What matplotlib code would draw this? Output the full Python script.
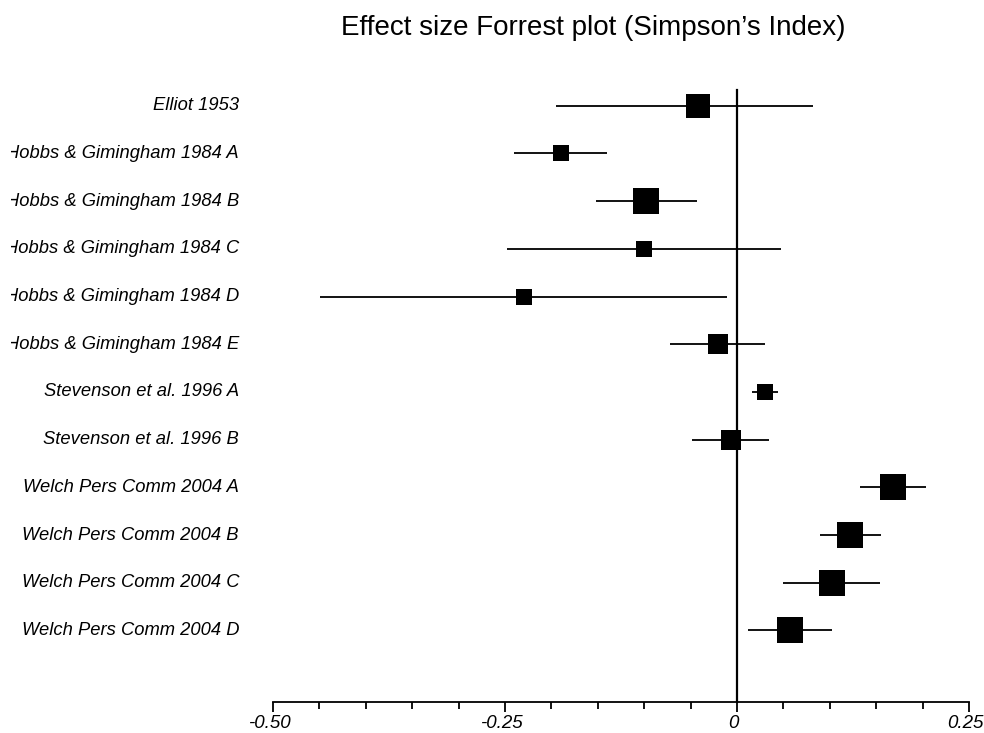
import matplotlib
matplotlib.use("Agg")
import matplotlib.pyplot as plt
import matplotlib.transforms as mtransforms
from matplotlib.patches import Rectangle
from matplotlib.ticker import FixedLocator, FixedFormatter, MultipleLocator

plt.rcParams['font.family'] = ['Liberation Sans', 'DejaVu Sans']

studies = ["Elliot 1953",
           "Hobbs & Gimingham 1984 A",
           "Hobbs & Gimingham 1984 B",
           "Hobbs & Gimingham 1984 C",
           "Hobbs & Gimingham 1984 D",
           "Hobbs & Gimingham 1984 E",
           "Stevenson et al. 1996 A",
           "Stevenson et al. 1996 B",
           "Welch Pers Comm 2004 A",
           "Welch Pers Comm 2004 B",
           "Welch Pers Comm 2004 C",
           "Welch Pers Comm 2004 D"]
effect = [-0.042, -0.190, -0.098, -0.100, -0.230, -0.020,
          0.0305, -0.007, 0.168, 0.122, 0.102, 0.0575]
ci_low = [-0.195, -0.240, -0.152, -0.248, -0.449, -0.072,
          0.0165, -0.048, 0.1325, 0.089, 0.050, 0.012]
ci_high = [0.082, -0.140, -0.043, 0.047, -0.011, 0.0305,
           0.0445, 0.034, 0.204, 0.155, 0.154, 0.102]
weight = [0.88, 0.60, 1.0, 0.60, 0.60, 0.73,
          0.60, 0.73, 1.0, 1.0, 1.0, 1.0]
tick_values = [-0.50, -0.25, 0.0, 0.25]
tick_labels = ["-0.50", "-0.25", "0", "0.25"]
title = "Effect size Forrest plot (Simpson\u2019s Index)"

W, H = 984, 733
fig = plt.figure(figsize=(W / 100, H / 100), dpi=100)
axis_y = 702
row_top = 105.7
row_step = 47.7
n = len(studies)
ymax = n + (axis_y - (row_top + (n - 1) * row_step)) / row_step
top_px = axis_y - ymax * row_step
ax = fig.add_axes([273 / W, 1 - axis_y / H, (969 - 273) / W, (axis_y - top_px) / H])

rows = list(range(1, n + 1))

for i in range(n):
    ax.plot([ci_low[i], ci_high[i]], [rows[i], rows[i]], color='black', lw=1.3,
            solid_capstyle='butt', zorder=2)
    ax.plot(effect[i], rows[i], marker='s', color='black',
            markersize=19.4 * weight[i], markeredgewidth=0, zorder=3)

ax.plot([0, 0], [0.67, ymax], color='black', lw=1.6, zorder=1, clip_on=False)

ax.set_xlim(-0.5, 0.25)
ax.set_ylim(ymax, 0)

for s in ['top', 'right', 'left']:
    ax.spines[s].set_visible(False)
ax.spines['bottom'].set_linewidth(1.3)
ax.set_yticks([])

ax.xaxis.set_major_locator(FixedLocator(tick_values))
ax.xaxis.set_major_formatter(FixedFormatter(tick_labels))
ax.xaxis.set_minor_locator(MultipleLocator(0.05))
ax.tick_params(axis='x', which='major', direction='out', length=7.5, width=1.3,
               labelsize=13.5, pad=2)
ax.tick_params(axis='x', which='minor', direction='out', length=5, width=1.3)
shift = mtransforms.ScaledTranslation(-4 / 100, 0, fig.dpi_scale_trans)
for lab in ax.get_xticklabels():
    lab.set_fontstyle('italic')
    lab.set_transform(lab.get_transform() + shift)

trans = mtransforms.blended_transform_factory(fig.transFigure, ax.transData)
clip_rect = Rectangle((11 / W, 0), (250 - 11) / W, 1, transform=fig.transFigure,
                      facecolor='none', edgecolor='none')
fig.add_artist(clip_rect)
for i in range(n):
    t = fig.text(239 / W, 0, studies[i], transform=trans, ha='right', va='center',
                 fontsize=13.2, fontstyle='italic')
    t.set_y(rows[i])
    t.set_clip_on(True)
    t.set_clip_path(clip_rect)

fig.text(593 / W, 1 - 28 / H, title, ha='center', va='center', fontsize=20)

fig.savefig("out.png", dpi=100)
